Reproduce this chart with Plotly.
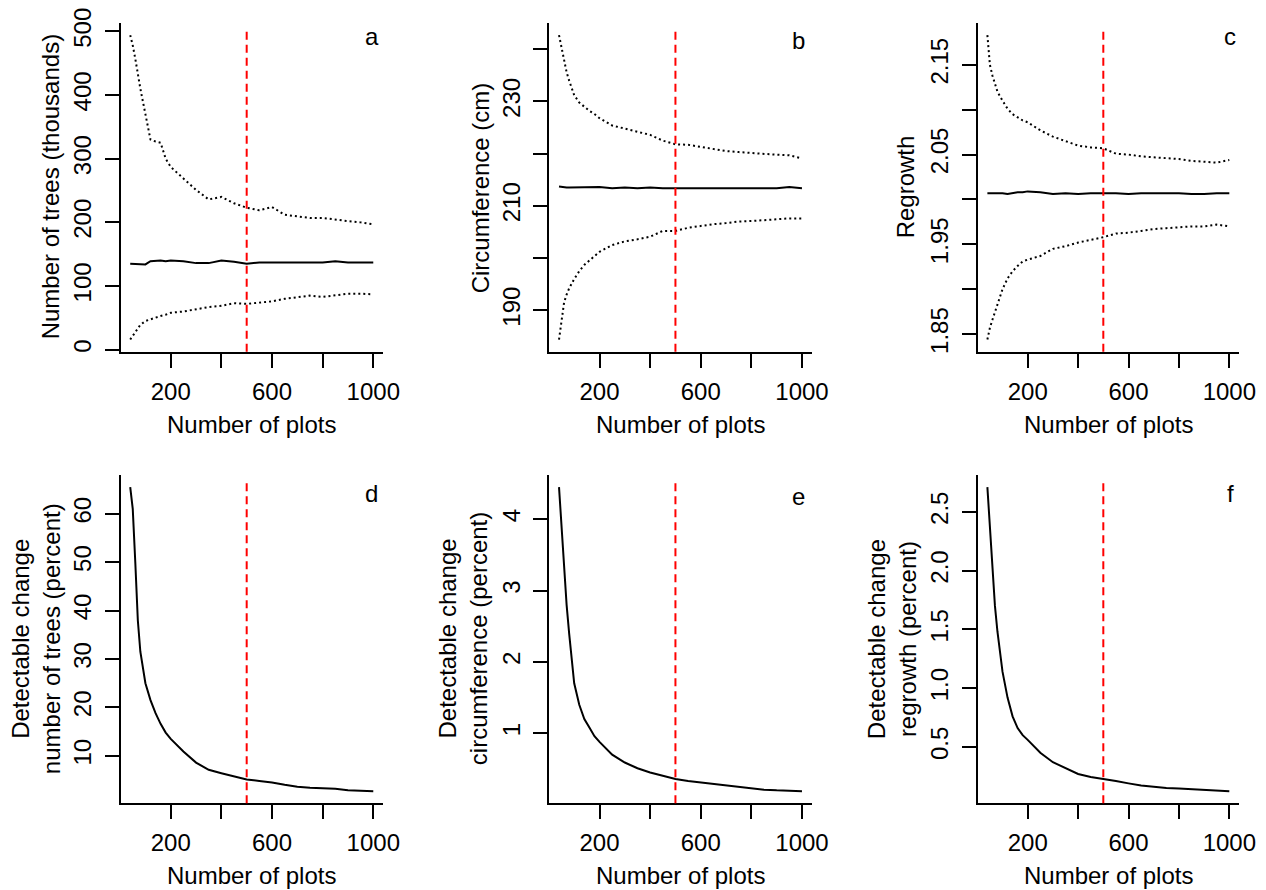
import plotly.graph_objects as go

# ---------------- data ----------------
n_plots = [40, 50, 60, 70, 80, 100, 120, 140, 160, 180, 200, 250, 300, 350, 400,
           450, 500, 550, 600, 650, 700, 750, 800, 850, 900, 950, 1000]

trees_upper = [494, 478, 457, 432, 410, 370, 330, 327, 325, 300, 287, 269, 251, 236, 240,
               230, 223, 219, 224, 212, 210, 207, 207, 204, 202, 200, 197]
trees_mean = [135, 135, 135, 134, 134, 134, 139, 140, 140, 139, 140, 139, 136, 136, 140,
              138, 135, 137, 137, 137, 137, 137, 137, 139, 137, 137, 137]
trees_lower = [16, 22, 29, 35, 39, 45, 48, 51, 53, 55, 58, 60, 64, 67, 69,
               73, 72, 74, 76, 80, 82, 85, 83, 86, 88, 88, 87]

circ_upper = [242.7, 240.2, 237.8, 235.6, 234.0, 231.2, 229.8, 229.0, 228.2, 227.6, 226.8, 225.4,
              224.8, 224.2, 223.6, 222.5, 221.8, 221.7, 221.3, 220.8, 220.5, 220.3, 220.1, 220.0,
              219.8, 219.7, 219.1]
circ_mean = [213.7, 213.6, 213.5, 213.5, 213.5, 213.5, 213.5, 213.5, 213.5, 213.5, 213.6, 213.4,
             213.5, 213.4, 213.5, 213.4, 213.4, 213.5, 213.5, 213.5, 213.5, 213.5, 213.5, 213.4,
             213.4, 213.6, 213.4]
circ_lower = [184.4, 188.5, 191.5, 193.0, 194.2, 196.0, 197.5, 198.7, 199.6, 200.4, 201.2, 202.5,
              203.2, 203.6, 204.1, 205.2, 205.2, 205.8, 206.2, 206.5, 206.7, 207.0, 207.1, 207.3,
              207.5, 207.6, 207.6]

regr_upper = [2.183, 2.150, 2.138, 2.128, 2.120, 2.110, 2.101, 2.095, 2.091, 2.088, 2.086, 2.077,
              2.070, 2.065, 2.060, 2.058, 2.057, 2.051, 2.050, 2.048, 2.047, 2.046, 2.045, 2.043,
              2.042, 2.041, 2.044]
regr_mean = [2.007, 2.007, 2.007, 2.007, 2.007, 2.007, 2.006, 2.007, 2.008, 2.008, 2.009, 2.008,
             2.006, 2.007, 2.006, 2.007, 2.007, 2.007, 2.006, 2.007, 2.007, 2.007, 2.007, 2.006,
             2.006, 2.007, 2.007]
regr_lower = [1.844, 1.857, 1.866, 1.875, 1.884, 1.900, 1.912, 1.920, 1.926, 1.931, 1.933, 1.937,
              1.945, 1.948, 1.952, 1.955, 1.958, 1.962, 1.963, 1.965, 1.967, 1.968, 1.969, 1.970,
              1.970, 1.972, 1.970]

detect_trees = [65.5, 61, 50, 38, 31.5, 25, 21.5, 18.8, 16.6, 14.8, 13.5, 10.9, 8.6, 7.1, 6.4,
                5.7, 5.1, 4.8, 4.5, 4.0, 3.6, 3.4, 3.3, 3.2, 2.9, 2.8, 2.7]
detect_circ = [4.45, 3.9, 3.3, 2.8, 2.4, 1.7, 1.40, 1.20, 1.08, 0.96, 0.88, 0.70, 0.59, 0.51, 0.45,
               0.40, 0.36, 0.33, 0.31, 0.285, 0.26, 0.245, 0.22, 0.21, 0.20, 0.195, 0.189]
detect_regr = [2.71, 2.36, 1.99, 1.70, 1.48, 1.14, 0.92, 0.76, 0.66, 0.60, 0.56, 0.45, 0.37, 0.32,
               0.27, 0.245, 0.23, 0.21, 0.19, 0.172, 0.162, 0.150, 0.146, 0.141, 0.135, 0.125, 0.124]

x_tickvals = [200, 400, 600, 800, 1000]
x_ticktext = ["200", "", "600", "", "1000"]
ref_n = 500

panel_letters = ["a", "b", "c", "d", "e", "f"]
y_titles = ["Number of trees (thousands)", "Circumference (cm)", "Regrowth",
            "Detectable change<br>number of trees (percent)",
            "Detectable change<br>circumference (percent)",
            "Detectable change<br>regrowth (percent)"]
x_title = "Number of plots"

y_tickvals = [[0, 100, 200, 300, 400, 500],
              [190, 200, 210, 220, 230, 240],
              [1.85, 1.90, 1.95, 2.00, 2.05, 2.10, 2.15],
              [10, 20, 30, 40, 50, 60],
              [1, 2, 3, 4],
              [0.5, 1.0, 1.5, 2.0, 2.5]]
y_ticktext = [["0", "100", "200", "300", "400", "500"],
              ["190", "", "210", "", "230", ""],
              ["1.85", "", "1.95", "", "2.05", "", "2.15"],
              ["10", "20", "30", "40", "50", "60"],
              ["1", "2", "3", "4"],
              ["0.5", "1.0", "1.5", "2.0", "2.5"]]

# ---------------- layout geometry (pixels) ----------------
W, H = 1266, 890
FONT = "Liberation Sans, Arial, sans-serif"
FS = 24
col_x = [(120.5, 383.0), (549.3, 811.7), (977.7, 1239.0)]
row_y = [(23.0, 351.7), (475.0, 803.3)]
ytitle_x = [[50, 480, 905], [36, 463, 892]]
xtitle_y = [425, 875]
letter_pos = [(371.7, 37), (798.5, 40), (1230, 37)]
letter_dy = [0, 456.5]


def pad_range(vals):
    lo, hi = min(vals), max(vals)
    s = hi - lo
    return [lo - 0.04 * s, hi + 0.04 * s]


series = [
    [trees_upper, trees_mean, trees_lower],
    [circ_upper, circ_mean, circ_lower],
    [regr_upper, regr_mean, regr_lower],
    [detect_trees],
    [detect_circ],
    [detect_regr],
]

fig = go.Figure()
layout = dict(
    template="none",
    width=W, height=H,
    margin=dict(l=0, r=0, t=0, b=0, pad=0),
    paper_bgcolor="white", plot_bgcolor="white",
    showlegend=False,
    font=dict(family=FONT, size=FS, color="black"),
)
annotations = []
shapes = []

xr = pad_range(n_plots)
for i in range(6):
    r, c = divmod(i, 3)
    k = "" if i == 0 else str(i + 1)
    x0, x1 = col_x[c]
    y0, y1 = row_y[r]
    for j, s in enumerate(series[i]):
        dotted = len(series[i]) == 3 and j != 1
        fig.add_trace(go.Scatter(
            x=n_plots, y=s, mode="lines", xaxis="x" + k, yaxis="y" + k,
            line=dict(color="black", width=2, dash="2px,3px" if dotted else "solid"),
            hoverinfo="skip"))
    allv = [v for s in series[i] for v in s]
    layout["xaxis" + k] = dict(
        domain=[x0 / W, x1 / W], anchor="y" + k, range=xr, automargin=False,
        showline=True, linecolor="black", linewidth=2, mirror=False,
        ticks="outside", ticklen=14, tickwidth=2, tickcolor="black",
        tickvals=x_tickvals, ticktext=x_ticktext, showgrid=False, zeroline=False,
        tickfont=dict(size=FS), ticklabelstandoff=3)
    layout["yaxis" + k] = dict(
        domain=[1 - y1 / H, 1 - y0 / H], anchor="x" + k, range=pad_range(allv),
        automargin=False,
        showline=True, linecolor="black", linewidth=2, mirror=False,
        ticks="outside", ticklen=14, tickwidth=2, tickcolor="black",
        tickvals=y_tickvals[i], ticktext=y_ticktext[i], tickangle=-90,
        showgrid=False, zeroline=False, tickfont=dict(size=FS), ticklabelstandoff=4)
    shapes.append(dict(type="line", xref="x" + k, yref="y" + k + " domain",
                       x0=ref_n, x1=ref_n, y0=0.0, y1=0.985,
                       line=dict(color="red", width=2, dash="8px,5px")))
    # y title
    annotations.append(dict(text=y_titles[i], textangle=-90, showarrow=False,
                            xref="paper", yref="paper",
                            x=ytitle_x[r][c] / W, y=1 - ((y0 + y1) / 2) / H,
                            xanchor="center", yanchor="middle",
                            font=dict(size=FS), align="center"))
    # x title
    annotations.append(dict(text=x_title, showarrow=False, xref="paper", yref="paper",
                            x=((x0 + x1) / 2) / W, y=1 - xtitle_y[r] / H,
                            xanchor="center", yanchor="middle", font=dict(size=FS)))
    # panel letter
    lx, ly = letter_pos[c]
    annotations.append(dict(text=panel_letters[i], showarrow=False, xref="paper", yref="paper",
                            x=lx / W, y=1 - (ly + letter_dy[r]) / H,
                            xanchor="center", yanchor="middle", font=dict(size=FS)))

layout["annotations"] = annotations
layout["shapes"] = shapes
fig.update_layout(**layout)
fig.write_html("out.html", config={"displayModeBar": False},
               post_script="document.body.style.margin='0px';document.body.style.overflow='hidden';")
